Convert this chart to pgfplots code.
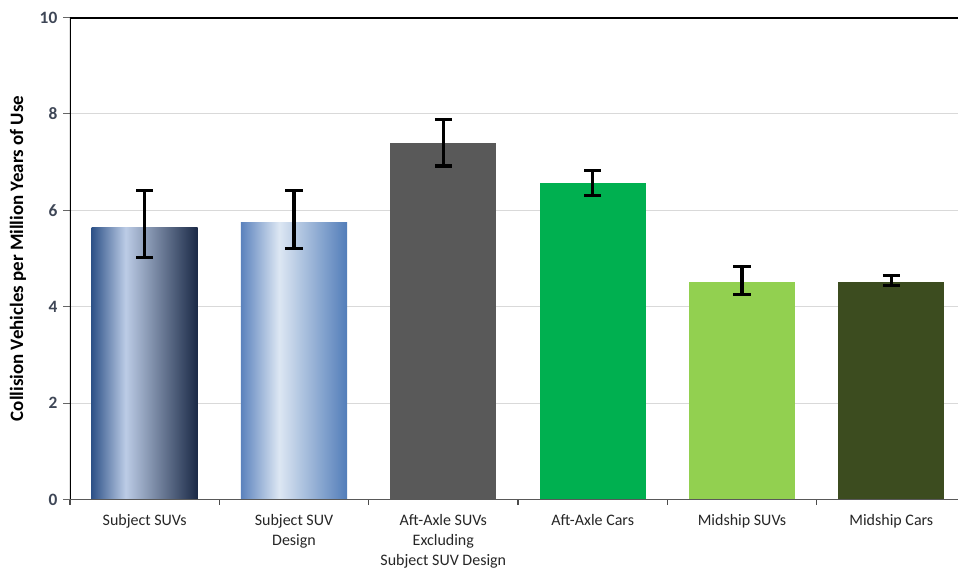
\documentclass[border=0pt]{standalone}
\usepackage{pgfplots}
\pgfplotsset{compat=1.18}
\usepackage{fontspec}
\setmainfont{Carlito}

\definecolor{b1l}{HTML}{2E5288}
\definecolor{b1m}{HTML}{BCCCE6}
\definecolor{b1r}{HTML}{1A2946}
\definecolor{b2l}{HTML}{5B82BD}
\definecolor{b2m}{HTML}{DDE7F3}
\definecolor{b2r}{HTML}{527DB9}
\definecolor{c3}{HTML}{595959}
\definecolor{c4}{HTML}{00B050}
\definecolor{c5}{HTML}{92D050}
\definecolor{c6}{HTML}{3C4C1F}
\definecolor{gridgray}{HTML}{D9D9D9}
\definecolor{tickcol}{HTML}{3E4656}
\definecolor{xtickcol}{HTML}{262626}

\pgfdeclarehorizontalshading{barone}{100bp}{color(0bp)=(b1l); color(25bp)=(b1l); color(41bp)=(b1m); color(75bp)=(b1r); color(100bp)=(b1r)}
\pgfdeclarehorizontalshading{bartwo}{100bp}{color(0bp)=(b2l); color(25bp)=(b2l); color(43bp)=(b2m); color(75bp)=(b2r); color(100bp)=(b2r)}

\pgfplotsset{myerr/.style={error bars/.cd, y dir=both, y explicit,
  error bar style={line width=2.4pt, black},
  error mark options={rotate=90, line width=2.4pt, mark size=6.4pt, black}}}

\begin{document}
\begin{tikzpicture}
\begin{axis}[
  scale only axis, width=672pt, height=361.5pt,
  xmin=-0.5, xmax=5.5, ymin=0, ymax=10,
  axis line style={draw=none},
  ytick={0,2,4,6,8,10},
  ymajorgrids, grid style={draw=gridgray, line width=0.7pt},
  xtick={0,1,2,3,4,5},
  xticklabels={Subject SUVs, Subject SUV\\Design, Aft-Axle SUVs\\Excluding\\Subject SUV Design, Aft-Axle Cars, Midship SUVs, Midship Cars},
  minor xtick={-0.5,0.5,1.5,2.5,3.5,4.5,5.5},
  major x tick style={draw=none},
  minor x tick style={draw=black!70, line width=0.8pt},
  y tick style={draw=black!60, line width=0.8pt},
  tick align=outside, major tick length=5pt, minor tick length=4pt,
  xtick pos=lower, ytick pos=left,
  /pgf/number format/assume math mode=true,
  yticklabel style={font=\bfseries\fontsize{13}{15}\selectfont, text=tickcol, xshift=-1pt},
  xticklabel style={align=center, font=\fontsize{12}{15}\selectfont, text=xtickcol, yshift=-3pt},
  ylabel={Collision Vehicles per Million Years of Use},
  ylabel style={font=\bfseries\fontsize{14.2}{16}\selectfont, at={(axis description cs:-0.058,0.5)}, anchor=center},
]
\addplot[ybar, bar shift=0pt, bar width=0.71, draw=none, shading=barone, myerr] coordinates {(0,5.65) += (0,0.76) -= (0,0.63)};
\addplot[ybar, bar shift=0pt, bar width=0.71, draw=none, shading=bartwo, myerr] coordinates {(1,5.75) += (0,0.66) -= (0,0.55)};
\addplot[ybar, bar shift=0pt, bar width=0.71, draw=none, fill=c3, myerr] coordinates {(2,7.39) += (0,0.50) -= (0,0.47)};
\addplot[ybar, bar shift=0pt, bar width=0.71, draw=none, fill=c4, myerr] coordinates {(3,6.56) += (0,0.26) -= (0,0.26)};
\addplot[ybar, bar shift=0pt, bar width=0.71, draw=none, fill=c5, myerr] coordinates {(4,4.51) += (0,0.32) -= (0,0.25)};
\addplot[ybar, bar shift=0pt, bar width=0.71, draw=none, fill=c6, myerr] coordinates {(5,4.51) += (0,0.13) -= (0,0.07)};
\draw[line width=1pt, black!65] (rel axis cs:0,0) -- (rel axis cs:1,0);
\draw[line width=2.2pt, black] (rel axis cs:0,0) -- (rel axis cs:0,1) -- (rel axis cs:1,1);
\end{axis}
\pgfresetboundingbox
\path[use as bounding box] (-52.5pt,-51.4pt) rectangle (666pt,374.6pt);
\end{tikzpicture}
\end{document}
